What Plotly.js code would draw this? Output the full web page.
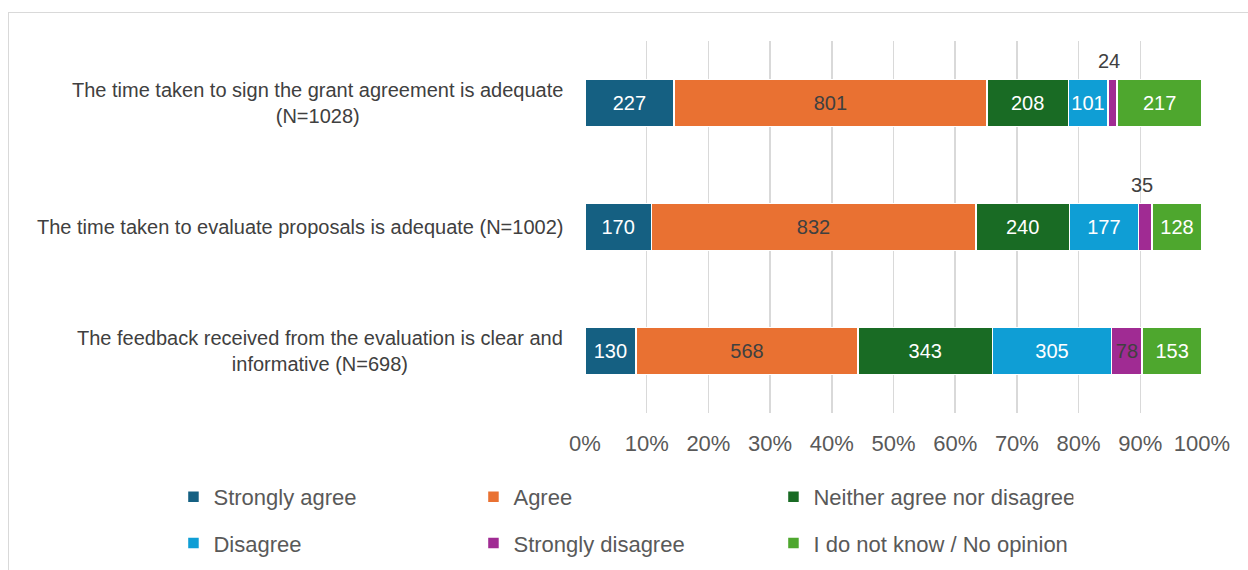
<!DOCTYPE html>
<html>
<head>
<meta charset="utf-8">
<script src="https://cdn.plot.ly/plotly-3.0.1.min.js"></script>
<style>
  html, body { margin: 0; padding: 0; background: #ffffff; }
  #wrap { position: relative; width: 1248px; height: 570px; overflow: hidden; }
  #frame { position: absolute; left: 8px; top: 12px; width: 1260px; height: 600px; border: 1.5px solid #d9d9d9; box-sizing: border-box; pointer-events: none; }
  #chart { position: absolute; left: 0; top: 0; width: 1248px; height: 570px; }
</style>
</head>
<body>
<div id="wrap">
  <div id="chart"></div>
  <div id="frame"></div>
</div>
<script>
// ---- Data ----
const categories = [
  "The time taken to sign the grant agreement is adequate<br>(N=1028)",
  "The time taken to evaluate proposals is adequate (N=1002)",
  "The feedback received from the evaluation is clear and<br>informative (N=698)"
];
const seriesNames = [
  "Strongly agree",
  "Agree",
  "Neither agree nor disagree",
  "Disagree",
  "Strongly disagree",
  "I do not know / No opinion"
];
const stronglyAgree    = [227, 170, 130];
const agree            = [801, 832, 568];
const neither          = [208, 240, 343];
const disagree         = [101, 177, 305];
const stronglyDisagree = [24, 35, 78];
const noOpinion        = [217, 128, 153];
const tickValues = [0, 10, 20, 30, 40, 50, 60, 70, 80, 90, 100];
const tickLabels = ["0%", "10%", "20%", "30%", "40%", "50%", "60%", "70%", "80%", "90%", "100%"];

// ---- Styles ----
const seriesValues = [stronglyAgree, agree, neither, disagree, stronglyDisagree, noOpinion];
const colors = ["#156082", "#E97132", "#196B24", "#0F9ED5", "#A02B93", "#4EA72E"];
const textColors = ["#ffffff", "#404040", "#ffffff", "#ffffff", "#404040", "#ffffff"];
const smallShare = 0.03;
const FONT = "Liberation Sans, Arial, sans-serif";

const totals = categories.map((c, i) => seriesValues.reduce((s, arr) => s + arr[i], 0));

const traces = [];
const annotations = [];
seriesValues.forEach((vals, k) => {
  const texts = vals.map((v, i) => (v / totals[i] < smallShare ? "" : String(v)));
  traces.push({
    type: "bar",
    orientation: "h",
    name: seriesNames[k],
    y: categories,
    x: vals,
    marker: { color: colors[k], line: { color: "#ffffff", width: 1.5 } },
    text: texts,
    textposition: "inside",
    insidetextanchor: "middle",
    constraintext: "none",
    textfont: { family: FONT, size: 20, color: textColors[k] },
    hoverinfo: "none",
    legend: k < 3 ? "legend" : "legend2"
  });
  vals.forEach((v, i) => {
    if (v / totals[i] < smallShare) {
      let before = 0;
      for (let j = 0; j < k; j++) before += seriesValues[j][i];
      annotations.push({
        xref: "x", yref: "y",
        x: (before + v / 2) / totals[i] * 100,
        y: categories[i],
        text: String(v),
        showarrow: false,
        yshift: 42,
        xshift: -3,
        font: { family: FONT, size: 20, color: "#404040" }
      });
    }
  });
});

categories.forEach((c) => {
  annotations.push({
    xref: "paper", yref: "y",
    x: 0, y: c,
    xanchor: "right",
    xshift: -20,
    align: "center",
    text: c,
    showarrow: false,
    font: { family: FONT, size: 20, color: "#404040" }
  });
});

const legendFont = { family: FONT, size: 22, color: "#595959" };

const layout = {
  width: 1248,
  height: 570,
  margin: { l: 585, r: 46, t: 41, b: 157, autoexpand: false },
  paper_bgcolor: "#ffffff",
  plot_bgcolor: "#ffffff",
  barmode: "stack",
  barnorm: "percent",
  bargap: 0.62,
  xaxis: {
    range: [0, 100],
    tickvals: tickValues,
    ticktext: tickLabels,
    showgrid: true,
    gridcolor: "#d9d9d9",
    gridwidth: 1.5,
    zeroline: false,
    showline: false,
    ticks: "outside",
    ticklen: 11,
    tickcolor: "rgba(0,0,0,0)",
    tickfont: { family: FONT, size: 22, color: "#595959" },
    fixedrange: true
  },
  yaxis: {
    type: "category",
    categoryorder: "array",
    categoryarray: categories,
    autorange: "reversed",
    showticklabels: false,
    showgrid: false,
    zeroline: false,
    showline: false,
    fixedrange: true
  },
  showlegend: true,
  legend: {
    orientation: "h",
    x: -0.667, y: -0.226,
    xanchor: "left", yanchor: "middle",
    entrywidth: 255, entrywidthmode: "pixels",
    font: legendFont,
    traceorder: "normal",
    bgcolor: "rgba(0,0,0,0)"
  },
  legend2: {
    orientation: "h",
    x: -0.667, y: -0.35,
    xanchor: "left", yanchor: "middle",
    entrywidth: 255, entrywidthmode: "pixels",
    font: legendFont,
    traceorder: "normal",
    bgcolor: "rgba(0,0,0,0)"
  },
  annotations: annotations
};

Plotly.newPlot("chart", traces, layout, { displayModeBar: false, staticPlot: true });
</script>
</body>
</html>
